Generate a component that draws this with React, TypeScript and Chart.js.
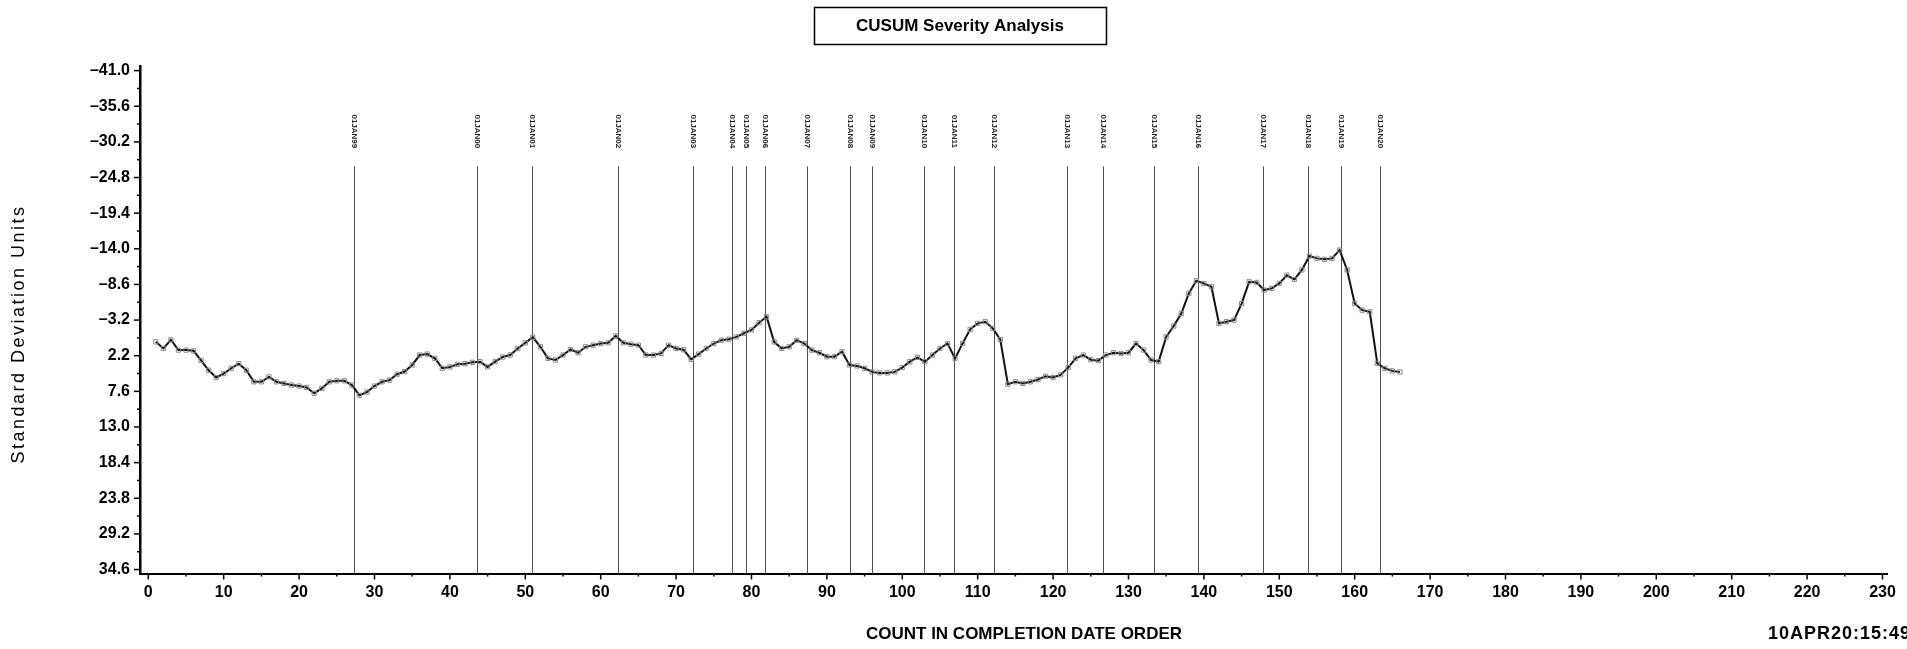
import React, { useEffect, useRef } from 'react';
import { Chart, registerables } from 'chart.js';

Chart.register(...registerables);

// CUSUM value for each count (1..N) in completion date order
const cusumValues: number[] = [
  0.1, 1.1, -0.2, 1.35, 1.35, 1.45, 2.9, 4.4, 5.5, 4.9,
  4.1, 3.4, 4.4, 6.15, 6.15, 5.4, 6.15, 6.4, 6.65, 6.8,
  7.0, 7.9, 7.15, 6.15, 6.0, 6.0, 6.65, 8.2, 7.7, 6.8,
  6.15, 5.9, 5.0, 4.6, 3.6, 2.1, 1.95, 2.6, 4.1, 3.9,
  3.5, 3.4, 3.2, 3.1, 3.9, 3.1, 2.4, 2.1, 1.1, 0.25,
  -0.6, 0.85, 2.6, 2.85, 2.1, 1.25, 1.75, 0.85, 0.6, 0.35,
  0.25, -0.8, 0.25, 0.45, 0.6, 2.1, 2.1, 1.85, 0.6, 1.1,
  1.3, 2.75, 1.95, 1.1, 0.35, -0.15, -0.3, -0.65, -1.2, -1.7,
  -2.8, -3.7, 0.1, 1.1, 0.85, -0.15, 0.35, 1.35, 1.75, 2.35,
  2.35, 1.6, 3.6, 3.75, 4.1, 4.65, 4.8, 4.8, 4.65, 4.0,
  3.1, 2.45, 3.1, 2.1, 1.1, 0.35, 2.6, 0.35, -1.8, -2.7,
  -2.95, -1.95, -0.25, 6.5, 6.15, 6.4, 6.15, 5.8, 5.3, 5.5,
  5.1, 4.0, 2.6, 2.1, 2.8, 2.95, 2.1, 1.75, 1.85, 1.75,
  0.35, 1.35, 2.85, 3.1, -0.65, -2.3, -4.2, -7.25, -9.15, -8.75,
  -8.25, -2.7, -2.95, -3.2, -5.7, -9.0, -8.9, -7.75, -8.0, -8.75,
  -10.0, -9.35, -10.8, -12.9, -12.55, -12.4, -12.55, -13.8, -10.8, -5.7,
  -4.7, -4.45, 3.35, 4.1, 4.5, 4.65,
];

// Reference lines (count position of each year start) and their labels
const eventCounts: number[] = [
  27.3, 43.6, 50.9, 62.3, 72.2, 77.4, 79.3, 81.8, 87.3, 93.0, 96.0,
  102.9, 106.8, 112.1, 121.9, 126.6, 133.4, 139.2, 147.9, 153.8, 158.2, 163.4,
];
const eventLabels: string[] = [
  '01JAN99', '01JAN00', '01JAN01', '01JAN02', '01JAN03', '01JAN04', '01JAN05',
  '01JAN06', '01JAN07', '01JAN08', '01JAN09', '01JAN10', '01JAN11', '01JAN12',
  '01JAN13', '01JAN14', '01JAN15', '01JAN16', '01JAN17', '01JAN18', '01JAN19', '01JAN20',
];

const yTickValues: number[] = [
  -41.0, -35.6, -30.2, -24.8, -19.4, -14.0, -8.6, -3.2, 2.2, 7.6, 13.0, 18.4, 23.8, 29.2, 34.6,
];
const xTickValues: number[] = [
  0, 10, 20, 30, 40, 50, 60, 70, 80, 90, 100, 110, 120, 130, 140, 150, 160, 170, 180, 190, 200, 210, 220, 230,
];

const chartTitle = 'CUSUM Severity Analysis';
const xAxisTitle = 'COUNT IN COMPLETION DATE ORDER';
const yAxisTitle = 'Standard Deviation Units';
const timestamp = '10APR20:15:49';

const W = 1907;
const H = 649;

const fmtY = (v: number) => (v < 0 ? '\u2013' + Math.abs(v).toFixed(1) : v.toFixed(1));

const decorPlugin = {
  id: 'decor',
  beforeDatasetsDraw(chart: any) {
    const { ctx, chartArea, scales } = chart;
    const xs = scales.x;
    const ys = scales.y;
    ctx.save();
    // reference lines
    const top = ys.getPixelForValue(-26.5);
    const labelCenter = ys.getPixelForValue(-31.8);
    ctx.strokeStyle = '#505050';
    ctx.lineWidth = 1;
    eventCounts.forEach((c, i) => {
      const x = Math.round(xs.getPixelForValue(c)) + 0.5;
      ctx.beginPath();
      ctx.moveTo(x, top);
      ctx.lineTo(x, chartArea.bottom);
      ctx.stroke();
      ctx.save();
      ctx.translate(x, labelCenter);
      ctx.rotate(Math.PI / 2);
      ctx.font = 'bold 8px "Liberation Sans", Arial, sans-serif';
      ctx.fillStyle = '#222';
      ctx.textAlign = 'center';
      ctx.textBaseline = 'middle';
      ctx.fillText(eventLabels[i], 0, 0);
      ctx.restore();
    });
    ctx.restore();
  },
  afterDraw(chart: any) {
    const { ctx, chartArea, scales } = chart;
    const xs = scales.x;
    const ys = scales.y;
    ctx.save();
    ctx.strokeStyle = '#000';
    ctx.lineWidth = 1.5;
    // x tick marks (major + minor midpoints)
    xTickValues.forEach((v, i) => {
      const x = xs.getPixelForValue(v);
      ctx.beginPath();
      ctx.moveTo(x, chartArea.bottom);
      ctx.lineTo(x, chartArea.bottom + 6);
      ctx.stroke();
      if (i < xTickValues.length - 1) {
        const xm = xs.getPixelForValue((v + xTickValues[i + 1]) / 2);
        ctx.beginPath();
        ctx.moveTo(xm, chartArea.bottom);
        ctx.lineTo(xm, chartArea.bottom + 3);
        ctx.stroke();
      }
    });
    // y tick marks
    yTickValues.forEach((v, i) => {
      const y = ys.getPixelForValue(v);
      ctx.beginPath();
      ctx.moveTo(chartArea.left, y);
      ctx.lineTo(chartArea.left - 6, y);
      ctx.stroke();
      if (i < yTickValues.length - 1) {
        const ym = ys.getPixelForValue((v + yTickValues[i + 1]) / 2);
        ctx.beginPath();
        ctx.moveTo(chartArea.left, ym);
        ctx.lineTo(chartArea.left - 3, ym);
        ctx.stroke();
      }
    });

    // title box
    const boxL = 814, boxT = 7, boxW = 292, boxH = 37;
    ctx.lineWidth = 1.5;
    ctx.strokeRect(boxL + 0.5, boxT + 0.5, boxW, boxH);
    ctx.fillStyle = '#000';
    ctx.font = 'bold 17px "Liberation Sans", Arial, sans-serif';
    ctx.textAlign = 'center';
    ctx.textBaseline = 'middle';
    ctx.fillText(chartTitle, boxL + boxW / 2, boxT + boxH / 2 + 1);

    // x axis title
    ctx.font = 'bold 17px "Liberation Sans", Arial, sans-serif';
    ctx.fillText(xAxisTitle, 1024, 634);

    // timestamp
    ctx.textAlign = 'left';
    (ctx as any).letterSpacing = '1px';
    ctx.font = 'bold 18px "Liberation Sans", Arial, sans-serif';
    ctx.fillText(timestamp, 1768, 634);

    // y axis title
    ctx.save();
    ctx.translate(19, 334);
    ctx.rotate(-Math.PI / 2);
    ctx.textAlign = 'center';
    (ctx as any).letterSpacing = '2.5px';
    ctx.font = '18px "Liberation Sans", Arial, sans-serif';
    ctx.fillText(yAxisTitle, 0, 0);
    ctx.restore();
    (ctx as any).letterSpacing = '0px';
    ctx.restore();
  },
};

export default function App() {
  const canvasRef = useRef<HTMLCanvasElement | null>(null);

  useEffect(() => {
    const canvas = canvasRef.current;
    if (!canvas) return;
    const points = cusumValues.map((v, i) => ({ x: i + 1, y: v }));
    const chart = new Chart(canvas, {
      type: 'line',
      data: {
        datasets: [
          {
            data: points,
            borderColor: '#111',
            borderWidth: 2,
            tension: 0,
            pointStyle: 'rect',
            pointRadius: 3,
            pointBorderWidth: 1,
            pointBorderColor: '#8a8a8a',
            pointBackgroundColor: 'rgba(0,0,0,0)',
            fill: false,
          },
        ],
      },
      options: {
        animation: false,
        responsive: false,
        devicePixelRatio: 1,
        layout: { padding: { top: 66, right: 20, left: 0, bottom: 0 } },
        plugins: {
          legend: { display: false },
          tooltip: { enabled: false },
          title: { display: false },
        },
        scales: {
          x: {
            type: 'linear',
            min: -1.1,
            max: 230.6,
            afterBuildTicks: (scale: any) => {
              scale.ticks = xTickValues.map((v) => ({ value: v }));
            },
            afterFit: (scale: any) => {
              scale.height = 75.5;
            },
            ticks: {
              autoSkip: false,
              maxRotation: 0,
              padding: 9,
              color: '#000',
              font: { family: '"Liberation Sans", Arial, sans-serif', size: 16, weight: 'bold' },
              callback: (v: any) => String(v),
            },
            grid: { display: false, drawTicks: false },
            border: { display: true, color: '#000', width: 2 },
          },
          y: {
            type: 'linear',
            reverse: true,
            min: -41.7,
            max: 35.2,
            afterBuildTicks: (scale: any) => {
              scale.ticks = yTickValues.map((v) => ({ value: v }));
            },
            afterFit: (scale: any) => {
              scale.width = 140;
            },
            ticks: {
              autoSkip: false,
              padding: 10,
              color: '#000',
              font: { family: '"Liberation Sans", Arial, sans-serif', size: 16, weight: 'bold' },
              callback: (v: any) => fmtY(Number(v)),
            },
            grid: { display: false, drawTicks: false },
            border: { display: true, color: '#000', width: 2.5 },
          },
        },
      },
      plugins: [decorPlugin],
    });
    return () => chart.destroy();
  }, []);

  return (
    <div style={{ position: 'absolute', left: 0, top: 0, width: W, height: H, background: '#fff' }}>
      <canvas ref={canvasRef} width={W} height={H} style={{ width: W, height: H, display: 'block' }} />
    </div>
  );
}
